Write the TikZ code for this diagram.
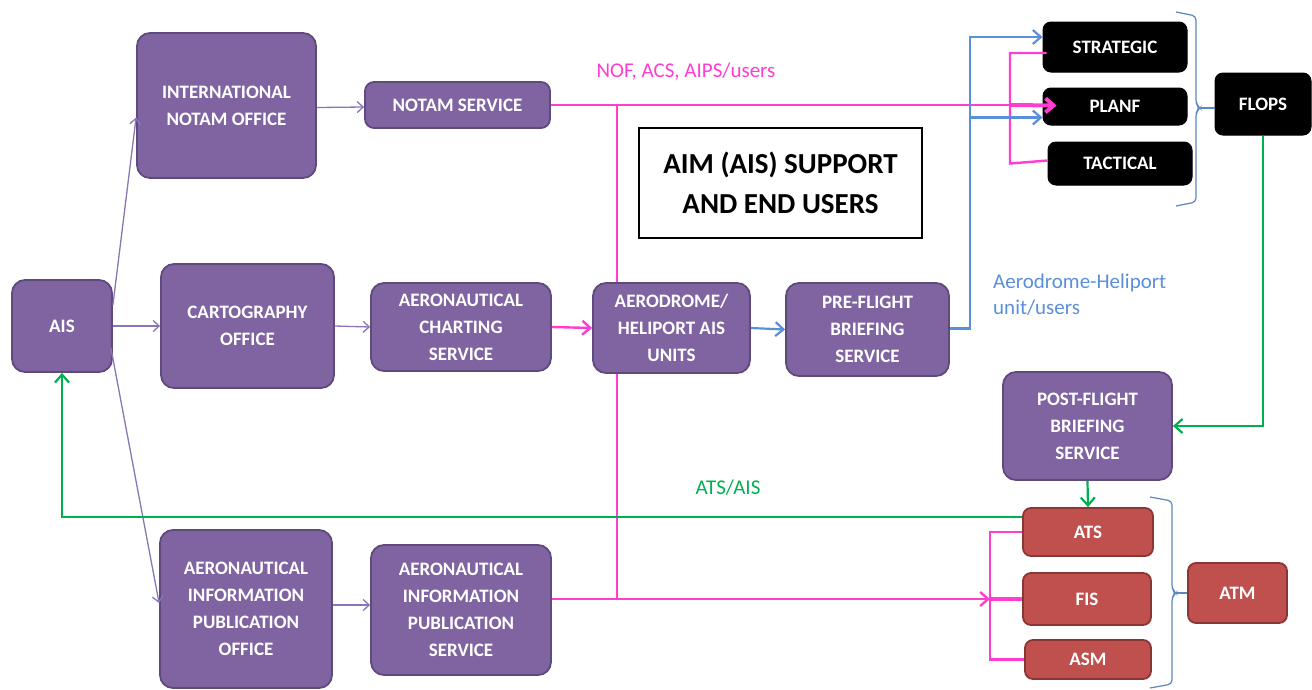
\documentclass[tikz,border=0pt]{standalone}
\usepackage{fontspec}
\setmainfont{Carlito}
\usetikzlibrary{arrows.meta,calc}
\definecolor{pur}{HTML}{8064A2}
\definecolor{purD}{HTML}{5E4A7C}
\definecolor{purL}{HTML}{8A75B5}
\definecolor{redF}{HTML}{C0504D}
\definecolor{redD}{HTML}{8A3634}
\definecolor{pnk}{HTML}{FF3DD0}
\definecolor{blu}{HTML}{5A8FDA}
\definecolor{brk}{HTML}{5B86C0}
\definecolor{grn}{HTML}{00B050}
\begin{document}
\begin{tikzpicture}[x=1pt,y=-1pt,
  boxtxt/.style={font=\fontsize{19}{27}\selectfont\bfseries, align=center, inner sep=0pt},
  pbox/.style={boxtxt, rounded corners=13pt, draw=purD, line width=1.8pt, fill=pur, text=white},
  sbox/.style={boxtxt, rounded corners=9pt, draw=purD, line width=1.8pt, fill=pur, text=white},
  kbox/.style={boxtxt, rounded corners=8pt, draw=black, line width=1pt, fill=black, text=white},
  rbox/.style={boxtxt, rounded corners=8pt, draw=redD, line width=1.8pt, fill=redF, text=white},
  parr/.style={draw=purL, line width=1.3pt, -{Straight Barb[length=6pt,width=11pt]}},
  pk/.style={draw=pnk, line width=2.4pt},
  pkarr/.style={pk, -{Straight Barb[length=8pt,width=14pt]}},
  bl/.style={draw=blu, line width=2.2pt},
  blarr/.style={bl, -{Straight Barb[length=8pt,width=14pt]}},
  gr/.style={draw=grn, line width=2.2pt},
  grarr/.style={gr, -{Straight Barb[length=8pt,width=14pt]}},
  brace/.style={draw=brk, line width=1.2pt, rounded corners=4pt},
  lbl/.style={font=\fontsize{21}{26}\selectfont, inner sep=0pt}
]
\useasboundingbox (0,0) rectangle (1312,689);

% pink trunk (behind the boxes)
\coordinate (pj1) at (617,105);
\coordinate (pj2) at (617,600);
\draw[pk] (pj1) -- (pj2);

% purple nodes
\node[pbox, minimum width=100pt, minimum height=92pt] (ais) at (62,326) {AIS};
\node[pbox, minimum width=179pt, minimum height=145pt] (ino) at (226.5,105.5) {INTERNATIONAL\\NOTAM OFFICE};
\node[sbox, minimum width=185pt, minimum height=46pt] (notam) at (457.5,105) {NOTAM SERVICE};
\node[pbox, minimum width=173pt, minimum height=124pt] (carto) at (247.5,326) {CARTOGRAPHY\\OFFICE};
\node[pbox, minimum width=180pt, minimum height=88pt] (acs) at (461,327) {AERONAUTICAL\\CHARTING\\SERVICE};
\node[pbox, minimum width=157pt, minimum height=90pt] (ahu) at (671.5,328) {AERODROME/\\HELIPORT AIS\\UNITS};
\node[pbox, minimum width=163pt, minimum height=93pt] (pfb) at (867.5,329.5) {PRE-FLIGHT\\BRIEFING\\SERVICE};
\node[pbox, minimum width=172pt, minimum height=158pt] (aipo) at (246,609) {AERONAUTICAL\\INFORMATION\\PUBLICATION\\OFFICE};
\node[pbox, minimum width=180pt, minimum height=130pt] (aips) at (461,610) {AERONAUTICAL\\INFORMATION\\PUBLICATION\\SERVICE};
\node[pbox, minimum width=169pt, minimum height=108pt] (pofb) at (1087.5,426) {POST-FLIGHT\\BRIEFING\\SERVICE};

% title box
\node[draw=black, line width=1.4pt, minimum width=283pt, minimum height=110pt, align=center,
      font=\fontsize{29}{40}\selectfont\bfseries, inner sep=0pt] (aim) at (780.5,183) {AIM (AIS) SUPPORT\\AND END USERS};

% black nodes
\node[kbox, minimum width=144pt, minimum height=50pt] (strat) at (1115,47) {STRATEGIC};
\node[kbox, minimum width=144pt, minimum height=37pt] (planf) at (1115,106.5) {PLANF};
\node[kbox, minimum width=144pt, minimum height=43pt] (tact) at (1120,163.5) {TACTICAL};
\node[kbox, minimum width=96pt, minimum height=62pt] (flops) at (1263,104) {FLOPS};

% red nodes
\node[rbox, minimum width=130pt, minimum height=48pt] (ats) at (1088,532) {ATS};
\node[rbox, minimum width=128pt, minimum height=52pt] (fis) at (1087,599) {FIS};
\node[rbox, minimum width=126pt, minimum height=39pt] (asm) at (1088,659.5) {ASM};
\node[rbox, minimum width=99pt, minimum height=60pt] (atm) at (1237.5,593) {ATM};

% purple thin arrows
\draw[parr] ($(ais.east)+(0,-21)$) -- ($(ino.west)+(0,12)$);
\draw[parr] (ais.east) -- (carto.west);
\draw[parr] ($(ais.east)+(-2,22)$) -- ($(aipo.west)+(0,-6)$);
\draw[parr] ($(ino.east)+(0,2)$) -- ($(notam.west)+(0,2)$);
\draw[parr] (carto.east) -- (acs.west);
\draw[parr] ($(aipo.east)+(0,-4)$) -- ($(aips.west)+(0,-5)$);

% pink connectors
\coordinate (fisarr) at (990,599);
\coordinate (pv) at (1010,53);
\draw[pk] (notam.east) -- (pj1 -| pv);
\draw[pkarr] (aips.east |- fis.west) -- (fisarr);
\draw[pk, line width=4pt] (fisarr) -- (fis.west);
\draw[pk] (ats.west) -- (ats.west -| fisarr) -- (asm.west -| fisarr) -- (asm.west);
\draw[pk] ($(strat.west)+(4,6)$) -- (pv) -- (pv |- tact.west) -- ($(tact.west)+(0,-3)$);
\draw[pkarr, line width=4pt] (pj1 -| pv) -- ($(planf.west)+(14,-1)$);
\draw[pkarr] (acs.east) -- (ahu.west);

% blue connectors
\coordinate (bv) at (970,37);
\draw[blarr] (ahu.east) -- (pfb.west);
\draw[blarr] ($(pfb.east)+(0,-1)$) -| (bv) -- ($(strat.west)+(0,-10)$);
\draw[blarr] ($(bv |- planf.west)+(0,11)$) -- ($(planf.west)+(0,11)$);

% braces
\coordinate (b1) at (1200,108);
\draw[brace] (1176,12) -- (1196,16) -- (1196,104) -- (b1) -- (1196,112) -- (1196,202) -- (1176,206);
\draw[brace] (b1) -- (b1 -| flops.west);
\coordinate (b2) at (1176,593);
\draw[brace] (1150,497) -- (1172,501) -- (1172,589) -- (b2) -- (1172,597) -- (1172,684) -- (1150,688);
\draw[brace] (b2) -- (atm.west);

% green connectors
\draw[grarr] (flops.south) |- (pofb.east);
\draw[grarr] (pofb.south) -- (ats.north);
\draw[grarr] ($(ats.west)+(0,-15)$) -| (ais.south);

% labels
\node[lbl, text=pnk] (l1) at (686,72) {NOF, ACS, AIPS/users};
\node[lbl, text=blu, anchor=west, align=left] (l2) at (993,295) {Aerodrome-Heliport\\unit/users};
\node[lbl, text=grn] (l3) at (728,488) {ATS/AIS};
\end{tikzpicture}
\end{document}
